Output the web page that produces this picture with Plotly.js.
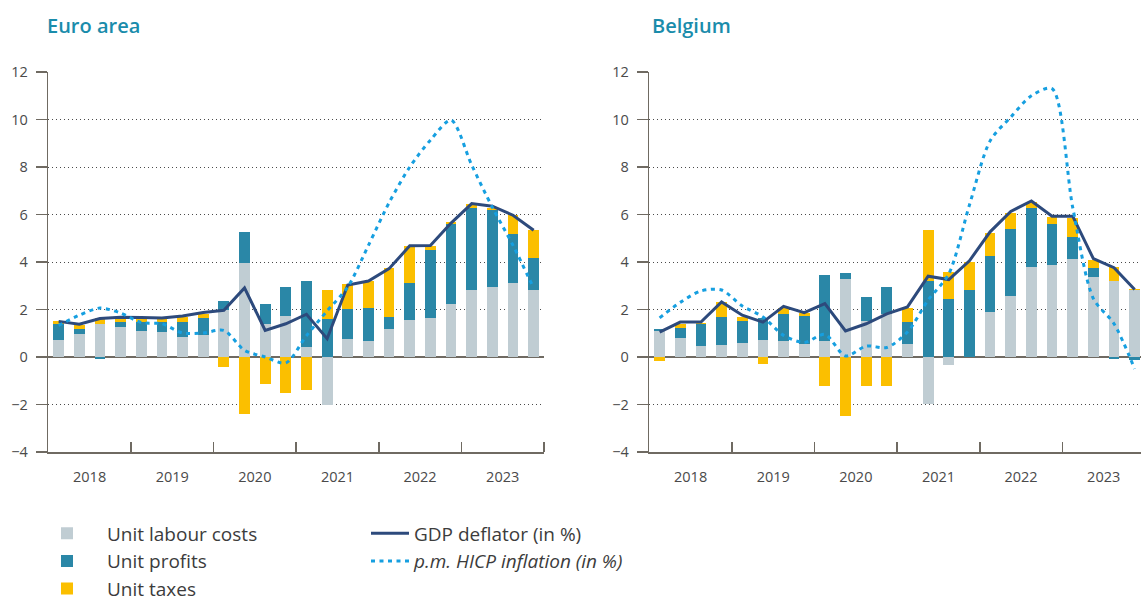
<!DOCTYPE html>
<html><head><meta charset="utf-8">
<script src="https://cdn.plot.ly/plotly-3.0.1.min.js"></script>
<style>html,body{margin:0;padding:0;overflow:hidden;background:#fff}#chart{width:1160px;height:605px}</style>
</head><body><div id="chart"></div>
<script>
const quarters = ['2018Q1','2018Q2','2018Q3','2018Q4','2019Q1','2019Q2','2019Q3','2019Q4',
  '2020Q1','2020Q2','2020Q3','2020Q4','2021Q1','2021Q2','2021Q3','2021Q4',
  '2022Q1','2022Q2','2022Q3','2022Q4','2023Q1','2023Q2','2023Q3','2023Q4'];
const years = ['2018','2019','2020','2021','2022','2023'];

// Euro area
const euroLabour   = [0.70,0.96,1.40,1.25, 1.08,1.04,0.83,0.91, 2.00,3.96,1.38,1.71, 0.42,-2.04,0.74,0.66, 1.17,1.54,1.63,2.22, 2.81,2.94,3.10,2.81];
const euroProfits  = [0.69,0.21,-0.08,0.21, 0.38,0.42,0.63,0.72, 0.35,1.29,0.84,1.23, 2.77,1.59,1.27,1.39, 0.50,1.56,2.86,3.40, 3.47,3.24,2.07,1.35];
const euroTaxes    = [0.11,0.19,0.26,0.14, 0.14,0.14,0.21,0.18, -0.42,-2.42,-1.15,-1.53, -1.40,1.22,1.05,1.14, 2.07,1.56,0.20,0.05, 0.15,0.10,0.79,1.18];
const euroDeflator = [1.50,1.38,1.62,1.67, 1.66,1.64,1.73,1.87, 1.97,2.91,1.12,1.40, 1.80,0.77,3.03,3.20, 3.72,4.68,4.69,5.64, 6.46,6.35,5.97,5.34];
const euroHicp     = [1.33,1.76,2.06,1.85, 1.45,1.40,1.01,1.01, 1.12,0.28,0.00,-0.25, 0.90,1.94,2.95,4.70, 6.50,8.00,9.13,9.97, 8.08,6.30,4.70,2.90];

// Belgium
const belLabour   = [1.08,0.79,0.45,0.49, 0.58,0.70,0.66,0.55, 0.66,3.27,1.50,1.80, 0.53,-1.97,-0.35,0.00, 1.88,2.56,3.78,3.86, 4.12,3.36,3.19,2.84];
const belProfits  = [0.09,0.42,0.94,1.18, 0.92,0.95,1.15,1.18, 2.78,0.26,1.01,1.14, 0.93,3.19,2.43,2.81, 2.36,2.82,2.50,1.73, 0.92,0.38,-0.08,-0.14];
const belTaxes    = [-0.17,0.19,0.04,0.63, 0.20,-0.30,0.25,0.14, -1.22,-2.49,-1.22,-1.22, 0.59,2.15,1.14,1.19, 0.97,0.69,0.23,0.30, 0.81,0.33,0.59,0.03];
const belDeflator = [1.05,1.47,1.47,2.32, 1.76,1.47,2.13,1.87, 2.25,1.10,1.40,1.82, 2.11,3.40,3.26,4.05, 5.27,6.13,6.57,5.93, 5.93,4.14,3.76,2.84];
const belHicp     = [1.65,2.30,2.78,2.82, 2.15,1.69,0.91,0.61, 0.95,0.04,0.46,0.40, 1.05,2.40,3.50,6.40, 9.10,10.10,11.00,11.30, 6.30,2.46,1.40,-0.50];

const seriesNames = ['Unit labour costs','Unit profits','Unit taxes','GDP deflator (in %)','<i>p.m. HICP inflation (in %)</i>'];
const colors = ['#c0cdd3','#2a87a7','#fbbf00','#2d4a7c','#169fe0'];

const W = 1160, H = 605;
const xIdx = quarters.map((q, i) => i);

function panel(xa, ya, labour, profits, taxes, deflator, hicp, show) {
  const bars = [labour, profits, taxes].map((vals, k) => ({
    type: 'bar', x: xIdx, y: vals, width: 0.52, xaxis: xa, yaxis: ya,
    name: seriesNames[k], marker: {color: colors[k], line: {width: 0}},
    legend: 'legend', legendgroup: 'g' + k, showlegend: show, hoverinfo: 'skip'
  }));
  const defl = {
    type: 'scatter', mode: 'lines', x: xIdx, y: deflator, xaxis: xa, yaxis: ya,
    name: seriesNames[3], line: {color: colors[3], width: 3},
    legend: 'legend2', legendgroup: 'g3', showlegend: show, hoverinfo: 'skip'
  };
  const hi = {
    type: 'scatter', mode: 'lines', x: xIdx, y: hicp, xaxis: xa, yaxis: ya,
    name: seriesNames[4], line: {color: colors[4], width: 3, dash: '4px,4.5px', shape: 'spline', smoothing: 0.8},
    legend: 'legend2', legendgroup: 'g4', showlegend: show, hoverinfo: 'skip'
  };
  return bars.concat([defl, hi]);
}

const data = panel('x', 'y', euroLabour, euroProfits, euroTaxes, euroDeflator, euroHicp, true)
  .concat(panel('x2', 'y2', belLabour, belProfits, belTaxes, belDeflator, belHicp, false));

const axisCol = '#6f6a62';
const tickFont = {family: 'Open Sans, sans-serif', size: 14.5, color: '#4a4a4a'};
const yearPos = years.map((y, i) => i * 4 + 1.5);
const yearEdges = years.map((y, i) => i * 4 + 3.5);

function xAxis(domain, anchor) {
  return {
    domain: domain, anchor: anchor, range: [-0.5, 23.5], fixedrange: true,
    showline: true, linecolor: axisCol, linewidth: 1.5, showgrid: false, zeroline: false,
    tickmode: 'array', tickvals: yearPos, ticktext: years, ticks: '',
    ticklabelstandoff: 11, tickfont: tickFont,
    minor: {tickmode: 'array', tickvals: yearEdges, ticks: 'inside', ticklen: 10, tickwidth: 1.5, tickcolor: axisCol, showgrid: false}
  };
}
function yAxis(anchor) {
  return {
    anchor: anchor, domain: [0, 1], range: [-4, 12], dtick: 2, tick0: 0, fixedrange: true,
    showline: true, linecolor: axisCol, linewidth: 1.5,
    ticks: 'outside', ticklen: 11, tickwidth: 1.5, tickcolor: axisCol,
    showgrid: true, gridcolor: '#4a4a4a', gridwidth: 1, griddash: '1px,3px',
    zeroline: true, zerolinecolor: axisCol, zerolinewidth: 1.5,
    tickfont: tickFont, ticklabelstandoff: 5
  };
}

const plotTop = 72, plotBottom = 451.7;
const py = p => (plotBottom - p) / (plotBottom - plotTop);

const legendFont = {family: 'Open Sans, sans-serif', size: 19, color: '#3c3c3c'};
const layout = {
  width: W, height: H,
  margin: {l: 0, r: 0, t: plotTop, b: H - plotBottom, pad: 0, autoexpand: false},
  paper_bgcolor: '#fff', plot_bgcolor: '#fff',
  barmode: 'relative', bargap: 0,
  font: {family: 'Open Sans, sans-serif', color: '#3c3c3c'},
  xaxis: xAxis([48.3 / W, 544 / W], 'y'),
  yaxis: yAxis('x'),
  xaxis2: xAxis([649.3 / W, 1145 / W], 'y2'),
  yaxis2: yAxis('x2'),
  legend: {
    x: 27 / W, xanchor: 'left', y: py(514), yanchor: 'top', orientation: 'v',
    traceorder: 'grouped', tracegroupgap: 0, itemwidth: 70, bgcolor: 'rgba(0,0,0,0)',
    font: legendFont
  },
  legend2: {
    x: 366 / W, xanchor: 'left', y: py(514), yanchor: 'top', orientation: 'v',
    traceorder: 'grouped', tracegroupgap: 0, itemwidth: 38, bgcolor: 'rgba(0,0,0,0)',
    font: legendFont
  },
  annotations: [
    {text: 'Euro area', xref: 'paper', yref: 'paper', x: 45 / W, xanchor: 'left', y: py(26), yanchor: 'middle',
     showarrow: false, font: {family: 'Open Sans, sans-serif', size: 20, weight: 600, color: '#1a8cab'}},
    {text: 'Belgium', xref: 'paper', yref: 'paper', x: 650 / W, xanchor: 'left', y: py(26), yanchor: 'middle',
     showarrow: false, font: {family: 'Open Sans, sans-serif', size: 20, weight: 600, color: '#1a8cab'}}
  ],
  showlegend: true
};

Plotly.newPlot('chart', data, layout, {staticPlot: true, displayModeBar: false});
</script>
</body></html>
